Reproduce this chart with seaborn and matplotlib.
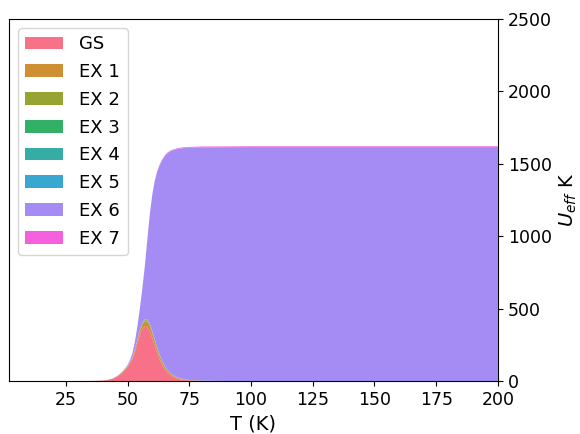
import matplotlib
matplotlib.use("Agg")
import matplotlib.pyplot as plt
import seaborn as sns

# Temperature grid (K) and contribution of each state to U_eff (K)
temperature = [2, 10, 20, 30, 35, 38, 40, 42, 44, 46, 48, 50, 51, 52, 53, 54, 55,
               56, 57, 58, 59, 60, 61, 62, 63, 64, 65, 66, 67, 68, 70, 72, 75,
               80, 85, 90, 100, 125, 150, 175, 200]

gs = [0, 0, 0, 0, 0.5, 1.5, 3, 7, 15, 32, 58, 95, 120, 150, 200, 260, 318,
      358, 376, 372, 345, 298, 245, 195, 150, 113, 84, 62, 46, 34, 18, 10, 4,
      1.2, 0.4, 0.1, 0, 0, 0, 0, 0]
ex1 = [0, 0, 0, 0, 0, 0.1, 0.2, 0.5, 1, 2, 4, 6, 8, 11, 15, 20, 26,
       32, 37, 39, 38, 35, 31, 27, 23, 19, 16, 13, 11, 9, 6, 4, 2,
       0.8, 0.3, 0.1, 0, 0, 0, 0, 0]
ex2 = [0, 0, 0, 0, 0, 0, 0, 0.1, 0.2, 0.4, 0.8, 1.2, 1.6, 2.2, 3, 4, 5,
       6.5, 7.5, 8, 8, 7.5, 6.5, 5.5, 4.8, 4, 3.3, 2.7, 2.2, 1.8, 1.2, 0.8, 0.4,
       0.2, 0.1, 0, 0, 0, 0, 0, 0]
ex3 = [0, 0, 0, 0, 0, 0, 0, 0, 0.1, 0.2, 0.3, 0.5, 0.6, 0.8, 1.1, 1.5, 2,
       2.5, 2.9, 3.1, 3.1, 3, 2.8, 2.5, 2.2, 1.9, 1.6, 1.3, 1.1, 0.9, 0.6, 0.4, 0.2,
       0.1, 0, 0, 0, 0, 0, 0, 0]
ex4 = [0, 0, 0, 0, 0, 0, 0, 0, 0, 0.1, 0.2, 0.3, 0.4, 0.5, 0.7, 1, 1.3,
       1.6, 1.9, 2, 2, 2, 1.8, 1.6, 1.4, 1.2, 1, 0.9, 0.7, 0.6, 0.4, 0.3, 0.1,
       0.1, 0, 0, 0, 0, 0, 0, 0]
ex5 = [0, 0, 0, 0, 0, 0, 0, 0, 0, 0.1, 0.1, 0.2, 0.3, 0.4, 0.5, 0.7, 1,
       1.2, 1.4, 1.5, 1.5, 1.5, 1.4, 1.2, 1.1, 0.9, 0.8, 0.7, 0.5, 0.4, 0.3, 0.2, 0.1,
       0, 0, 0, 0, 0, 0, 0, 0]
ex6 = [0, 0, 0, 0.1, 0.3, 0.5, 0.7, 1.0, 1.4, 2, 3, 6, 14, 28, 52, 90, 148,
       235, 365, 545, 750, 935, 1090, 1212, 1308, 1385, 1445, 1490, 1522, 1545, 1575, 1592, 1605,
       1612, 1614, 1615, 1616, 1616, 1616, 1616, 1616]
ex7 = [0, 0, 0, 0, 0, 0, 0, 0, 0, 0, 0, 0, 0, 0.1, 0.3, 0.5, 0.7,
       1, 1.4, 1.9, 2.5, 3, 3.4, 3.7, 4, 4.2, 4.4, 4.5, 4.6, 4.7, 4.8, 4.9, 5,
       5, 5, 5, 5, 5, 5, 5, 5]

labels = ["GS", "EX 1", "EX 2", "EX 3", "EX 4", "EX 5", "EX 6", "EX 7"]
x_ticks = [25, 50, 75, 100, 125, 150, 175, 200]
y_ticks = [0, 500, 1000, 1500, 2000, 2500]

palette = sns.color_palette("husl", 8)

fig = plt.figure(figsize=(5.8, 4.34), dpi=100)
ax = fig.add_axes([0.0155, 0.1221, 0.843, 0.834])

ax.stackplot(temperature, gs, ex1, ex2, ex3, ex4, ex5, ex6, ex7,
             labels=labels, colors=palette)

ax.set_xlim(temperature[0], temperature[-1])
ax.set_ylim(0, 2500)
ax.set_xticks(x_ticks)
ax.set_yticks(y_ticks)
ax.yaxis.tick_right()
ax.yaxis.set_label_position("right")
ax.tick_params(labelsize=12.5)
ax.set_xlabel("T (K)", fontsize=14)
ax.set_ylabel("$U_{eff}$ K", fontsize=14)

ax.legend(loc="upper left", fontsize=13, handlelength=2.1,
          labelspacing=0.54, handletextpad=0.9)

fig.savefig("out.png", dpi=100)
